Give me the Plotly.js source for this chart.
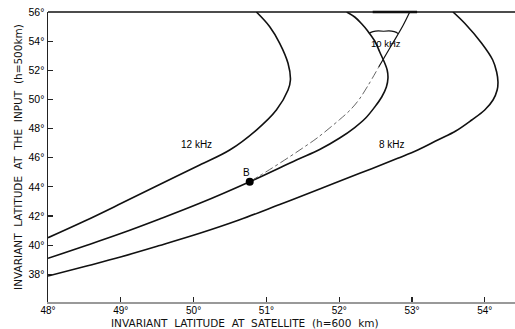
<!DOCTYPE html>
<html>
<head>
<meta charset="utf-8">
<script src="https://cdn.plot.ly/plotly-3.0.1.min.js"></script>
<style>
  html, body { margin: 0; padding: 0; background: #fff; }
  #chart { width: 515px; height: 329px; }
</style>
</head>
<body>
<div id="chart"></div>
<script>
// Invariant latitude at satellite (x) vs invariant latitude at the input (y)

// 12 kHz trace
const x12 = [48.000, 48.504, 49.008, 49.534, 50.084, 50.496, 50.863, 51.137, 51.297, 51.330, 51.297, 51.183, 51.046, 50.863];
const y12 = [40.509, 41.655, 42.870, 44.160, 45.499, 46.528, 47.901, 49.273, 50.646, 51.333, 52.479, 53.852, 54.991, 56.000];

// trace through point B
const xMid = [48.000, 48.504, 49.008, 49.534, 50.084, 50.771, 51.412, 51.732, 52.007, 52.213, 52.364, 52.488, 52.584, 52.648, 52.670, 52.659, 52.625, 52.557, 52.488, 52.392, 52.305, 52.213, 52.103];
const yMid = [39.095, 39.940, 40.811, 41.793, 42.870, 44.353, 45.842, 46.563, 47.352, 48.073, 48.725, 49.480, 50.166, 50.852, 51.470, 52.019, 52.500, 53.255, 54.010, 54.696, 55.211, 55.657, 56.000];

// 8 kHz trace
const x8 = [48.000, 48.504, 49.008, 49.534, 50.084, 50.633, 51.183, 51.732, 52.282, 52.804, 53.079, 53.354, 53.601, 53.821, 53.999, 54.113, 54.170, 54.181, 54.163, 54.109, 53.957, 53.724, 53.563];
const y8 = [37.881, 38.533, 39.205, 39.974, 40.811, 41.738, 42.788, 43.852, 44.929, 45.959, 46.528, 47.215, 47.832, 48.588, 49.274, 49.960, 50.646, 51.196, 51.882, 52.706, 53.852, 55.224, 56.000];

// 10 kHz branch leaving B: dash-dot lower part, solid upper part
const x10a = [50.771, 51.046, 51.320, 51.499, 51.705, 52.007, 52.144, 52.268, 52.392, 52.543];
const y10a = [44.353, 45.190, 46.069, 46.666, 47.386, 48.622, 49.239, 49.960, 50.921, 52.225];
const x10b = [52.543, 52.708, 52.873, 52.969];
const y10b = [52.225, 53.632, 55.039, 56.000];

// point B
const xB = [50.771];
const yB = [44.353];

const xTicks = [48, 49, 50, 51, 52, 53, 54];
const yTicks = [38, 40, 42, 44, 46, 48, 50, 52, 54, 56];
const deg = v => v + '°';

// lettered axis titles use widened word gaps
const spaced = s => s.split(' ').join('\u00a0\u00a0');

const FONT = 'DejaVu Sans, Liberation Sans, sans-serif';
const TICKFONT = 'Liberation Sans, Arial, sans-serif';
const solid = { color: '#111', width: 1.6, shape: 'spline', smoothing: 1 };

const traces = [
  { x: x12, y: y12, mode: 'lines', line: solid, hoverinfo: 'skip' },
  { x: xMid, y: yMid, mode: 'lines', line: solid, hoverinfo: 'skip' },
  { x: x8, y: y8, mode: 'lines', line: solid, hoverinfo: 'skip' },
  { x: x10a, y: y10a, mode: 'lines', line: { color: '#555', width: 0.9, dash: 'dashdot', shape: 'spline', smoothing: 1 }, hoverinfo: 'skip' },
  { x: x10b, y: y10b, mode: 'lines', line: { color: '#111', width: 1.2, shape: 'spline', smoothing: 1 }, hoverinfo: 'skip' },
  { x: xB, y: yB, mode: 'markers', marker: { color: '#000', size: 8 }, hoverinfo: 'skip' }
];

const layout = {
  width: 515, height: 329,
  margin: { l: 48, r: 0, t: 12, b: 27 },
  paper_bgcolor: '#fff', plot_bgcolor: '#fff',
  showlegend: false,
  font: { family: FONT, color: '#111', size: 10 },
  xaxis: {
    range: [48, 54.415], showgrid: false, zeroline: false,
    showline: true, linecolor: '#999', linewidth: 1.5,
    ticks: 'inside', ticklen: 5, tickcolor: '#222', tickwidth: 1.2,
    tickvals: xTicks, ticktext: xTicks.map(deg),
    ticklabelstandoff: -2,
    tickfont: { family: TICKFONT, size: 10, color: '#000' }
  },
  yaxis: {
    range: [36.1, 56], showgrid: false, zeroline: false,
    showline: true, linecolor: '#222', linewidth: 1.5,
    ticks: 'inside', ticklen: 5, tickcolor: '#222', tickwidth: 1.2,
    tickvals: yTicks, ticktext: yTicks.map(deg),
    tickfont: { family: TICKFONT, size: 10.5, color: '#000' },
    title: { text: spaced('INVARIANT LATITUDE AT THE INPUT (h=500km)'), font: { family: FONT, size: 10.5, color: '#111' }, standoff: 4 }
  },
  shapes: [
    // top frame line
    { type: 'line', xref: 'paper', yref: 'paper', x0: 0, x1: 1, y0: 1, y1: 1, line: { color: '#111', width: 1.5 } },
    // heavier stretch of the top edge
    { type: 'line', xref: 'x', yref: 'paper', x0: 52.46, x1: 53.07, y0: 1, y1: 1, line: { color: '#111', width: 2.6 } },
    // brace above the 10 kHz label
    { type: 'path', xref: 'x', yref: 'y',
      path: 'M 52.41,54.52 Q 52.47,54.78 52.61,54.68 Q 52.75,54.78 52.81,54.52',
      line: { color: '#111', width: 1.1 } }
  ],
  annotations: [
    { xref: 'paper', yref: 'paper', x: 0.4218, y: -0.072, xanchor: 'center', yanchor: 'middle',
      text: spaced('INVARIANT LATITUDE AT SATELLITE (h=600 km)'), showarrow: false,
      font: { family: FONT, size: 10.5, color: '#111' } },
    { x: 50.04, y: 46.94, text: '12 kHz', showarrow: false, font: { family: TICKFONT, size: 10, color: '#000' } },
    { x: 52.72, y: 46.94, text: '8 kHz', showarrow: false, font: { family: TICKFONT, size: 10, color: '#000' } },
    { x: 52.64, y: 53.87, text: '10 kHz', showarrow: false, font: { family: TICKFONT, size: 9.5, color: '#000' } },
    { x: 50.73, y: 45.02, text: 'B', showarrow: false, font: { family: TICKFONT, size: 10, color: '#000' } }
  ]
};

Plotly.newPlot('chart', traces, layout, { staticPlot: true, displayModeBar: false });
</script>
</body>
</html>
